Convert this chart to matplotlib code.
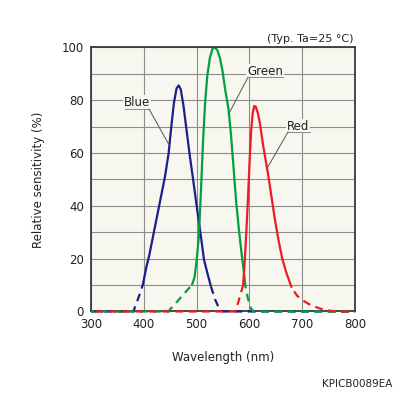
"""Relative spectral sensitivity of an RGB colour sensor (Blue / Green / Red)."""

import matplotlib
matplotlib.use("Agg")
import matplotlib.pyplot as plt

# ---- data -------------------------------------------------------------------
blue_wl = [398, 405, 410, 420, 430, 440, 447, 452, 457, 462, 466, 470, 475, 480,
           487, 494, 500, 507, 514, 521, 527]
blue_val = [10, 17, 21, 31, 41, 51, 60, 70, 79, 84.5, 85.6, 84, 78, 70,
            59, 49, 40, 30, 19.5, 14, 9.5]
blue_dash_l_wl = [300, 380, 386, 392, 398]
blue_dash_l_val = [0, 0, 3, 6.5, 10]
blue_dash_r_wl = [527, 535, 543, 550, 800]
blue_dash_r_val = [9.5, 4.5, 1, 0, 0]

green_wl = [491, 496, 500, 504, 508, 512, 516, 520, 525, 530, 534, 539, 544,
            549, 554, 560, 565, 570, 575, 580, 585, 590, 592]
green_val = [10, 13, 19.5, 28, 45, 64, 79, 89, 96, 99.5, 100, 99, 96,
             91, 84, 77, 67, 54, 41, 31, 22, 14, 10]
green_dash_l_wl = [300, 446, 460, 475, 491]
green_dash_l_val = [0, 0, 3, 6.5, 10]
green_dash_r_wl = [592, 597, 602, 607, 800]
green_dash_r_val = [10, 5, 1.5, 0, 0]

red_wl = [588, 591, 594, 597, 600, 603, 606, 609, 612, 616, 620, 625, 630,
          636, 642, 648, 655, 662, 670, 680]
red_val = [10, 19, 30, 42, 56, 68, 75, 77.8, 77.5, 75, 71, 64, 58,
           51, 43, 35, 27, 20, 14.5, 9]
red_dash_l_wl = [300, 573, 578, 583, 588]
red_dash_l_val = [0, 0, 3, 6.5, 10]
red_dash_r_wl = [680, 690, 700, 715, 735, 755, 770, 800]
red_dash_r_val = [9, 6, 4.3, 2.5, 1, 0.2, 0, 0]

x_ticks = [300, 400, 500, 600, 700, 800]
y_ticks = [0, 20, 40, 60, 80, 100]

BLUE = "#1c1f8a"
GREEN = "#00a040"
RED = "#ec1c24"

fig = plt.figure(figsize=(3.96, 3.96), dpi=100)
ax = fig.add_axes([0.2298, 0.2134, 0.667, 0.667])
ax.set_facecolor("#f7f6ef")

curves = [
    (BLUE, blue_wl, blue_val, blue_dash_l_wl, blue_dash_l_val, blue_dash_r_wl, blue_dash_r_val, 0),
    (GREEN, green_wl, green_val, green_dash_l_wl, green_dash_l_val, green_dash_r_wl, green_dash_r_val, 2),
    (RED, red_wl, red_val, red_dash_l_wl, red_dash_l_val, red_dash_r_wl, red_dash_r_val, 4),
]
for color, wl, val, lwl, lval, rwl, rval, off in curves:
    ax.plot(wl, val, color=color, lw=1.6, solid_capstyle="butt", zorder=3)
    ax.plot(lwl, lval, color=color, lw=1.6, linestyle=(off, (3.5, 2.5)), zorder=6, clip_on=False)
    ax.plot(rwl, rval, color=color, lw=1.6, linestyle=(off, (3.5, 2.5)), zorder=6, clip_on=False)

ax.set_xlim(300, 800)
ax.set_ylim(0, 100)
ax.set_xticks(x_ticks)
ax.set_yticks(y_ticks)
ax.set_yticks(range(10, 100, 20), minor=True)
ax.grid(True, which="both", color="#8c8c8c", lw=0.8)
ax.set_axisbelow(True)
ax.tick_params(which="both", length=0, labelsize=8.5, pad=5, colors="#222222")
for s in ax.spines.values():
    s.set_color("#3a3a3a")
    s.set_linewidth(1.3)
    s.set_zorder(4)

ax.set_xlabel("Wavelength (nm)", fontsize=8.5, labelpad=14, color="#222222")
ax.set_ylabel("Relative sensitivity (%)", fontsize=8.5, labelpad=12, color="#222222")

# labels with leader lines: (text, text pos, underline x0/x1/y, leader start x, leader end)
labels = [
    ("Blue", (387, 79.3), (364, 410, 76.6), 410, (447.7, 63.1)),
    ("Green", (629.5, 91.0), (597, 664, 88.6), 597, (562, 75.3)),
    ("Red", (692, 70.2), (673, 715, 68.0), 673, (635, 54.8)),
]
for name, (tx, ty), (ux0, ux1, uy), sx, (ex, ey) in labels:
    ax.text(tx, ty, name, fontsize=8.5, ha="center", va="center", color="#222222",
            bbox=dict(facecolor="#f7f6ef", edgecolor="none", pad=0.6), zorder=5)
    ax.plot([ux0, ux1], [uy, uy], color="#8a8a8a", lw=0.7, zorder=5)
    ax.plot([sx, ex], [uy, ey], color="#555555", lw=0.7, zorder=5)

fig.text(0.893, 0.902, "(Typ. Ta=25 °C)", fontsize=8, ha="right", va="center", color="#222222")
fig.text(0.99, 0.03, "KPICB0089EA", fontsize=7.5, ha="right", va="center", color="#222222")

fig.savefig("out.png", dpi=100)
